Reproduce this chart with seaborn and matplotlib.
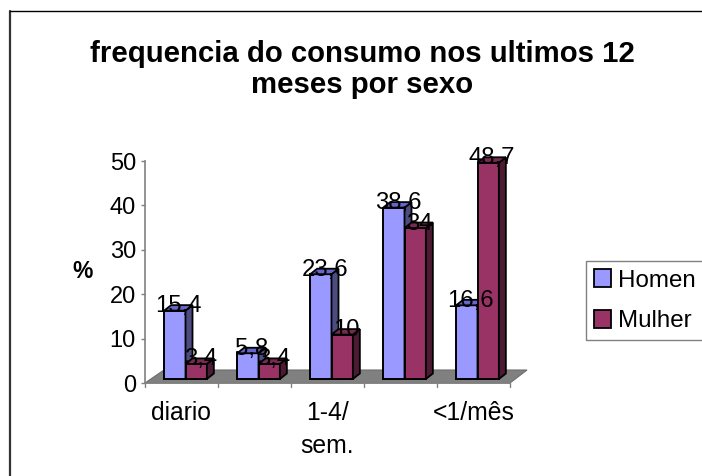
import matplotlib
matplotlib.use('Agg')
import pandas as pd
import seaborn as sns
from matplotlib import pyplot as plt
from matplotlib.patches import Polygon, Rectangle
from matplotlib.transforms import ScaledTranslation, blended_transform_factory
from matplotlib.lines import Line2D

categorias = ['diario', '5-6/sem.', '1-4/\nsem.', '1-3/mês', '<1/mês']
tick_labels = ['diario', '', '1-4/\nsem.', '', '<1/mês']
homem = [15.4, 5.8, 23.6, 38.6, 16.6]
mulher = [3.4, 3.4, 10, 34, 48.7]
rotulos_h = ['15,4', '5,8', '23,6', '38,6', '16,6']
rotulos_m = ['3,4', '3,4', '10', '34', '48,7']
azul = '#9999ff'
vinho = '#993366'
azul_esc = '#4c4c80'
vinho_esc = '#4d1a33'

df = pd.DataFrame({'cat': categorias * 2,
                   'valor': homem + mulher,
                   'sexo': ['Homen'] * 5 + ['Mulher'] * 5})

sns.set_theme(style='white')
plt.rcParams['font.family'] = ['Liberation Sans', 'DejaVu Sans']
plt.rcParams['text.color'] = 'black'
plt.rcParams['axes.labelcolor'] = 'black'

W, H = 702, 476
fig = plt.figure(figsize=(W / 100, H / 100), dpi=100)
ax = fig.add_axes([145 / W, 1 - 383 / H, 365 / W, 222 / H])

sns.barplot(data=df, x='cat', y='valor', hue='sexo', order=categorias,
            palette=[azul, vinho], width=0.585, gap=0, legend=False, ax=ax,
            edgecolor='black', linewidth=1.4, saturation=1)
ax.set_xlim(-0.5, 4.5)
ax.set_ylim(0, 50)
ax.set_yticks([0, 10, 20, 30, 40, 50])
ax.set_xticks(range(5))
ax.set_xticklabels(tick_labels, fontsize=17.8, color='black', linespacing=1.49)
ax.tick_params(axis='x', length=0, pad=13)
ax.tick_params(axis='y', left=True, length=3, width=1, color='#808080',
               labelsize=17, labelcolor='black', pad=3.5)
ax.set_xlabel('')
ax.set_ylabel('%', fontsize=16.5, fontweight='bold', rotation=0, va='center', ha='center')
ax.yaxis.set_label_coords(-0.17, 0.50)
for s in ['top', 'right']:
    ax.spines[s].set_visible(False)
for s in ['left', 'bottom']:
    ax.spines[s].set_color('#808080')
    ax.spines[s].set_linewidth(1.2)
    ax.spines[s].set_zorder(1.5)

# ticks entre as categorias, como no grafico original
bx = blended_transform_factory(ax.transData, ax.transAxes)
for i in range(6):
    ax.add_line(Line2D([i - 0.5, i - 0.5], [0, -0.016], transform=bx,
                       color='#808080', lw=1, clip_on=False))

# chao e profundidade, tudo em pixels a partir da posicao real das barras
dx, dy = 7, 5.5
base_up = 4
shift_x = 4
desloc = ScaledTranslation(shift_x / 100, base_up / 100, fig.dpi_scale_trans)

x0, y0 = ax.transData.transform((-0.5, 0))
x1, _ = ax.transData.transform((4.5, 0))
fig.add_artist(Polygon([(x0, y0), (x1, y0), (x1 + 17, y0 + 13), (x0 + 19, y0 + 13)],
                       closed=True, transform=None, facecolor='#808080',
                       edgecolor='#6e6e6e', lw=0.8, zorder=1))
ax.set_zorder(2)
ax.patch.set_alpha(0)

barras = [b for b in ax.patches if isinstance(b, Rectangle)]
barras = sorted(barras, key=lambda b: (round(b.get_x() + b.get_width() / 2 + 0.15), b.get_x()))
for n, b in enumerate(barras):
    e = n % 2
    i = n // 2
    b.set_transform(ax.transData + desloc)
    b.set_zorder(3 + n)
    b.set_clip_on(False)
    (xa, ya) = ax.transData.transform((b.get_x(), 0))
    (xb, yb) = ax.transData.transform((b.get_x() + b.get_width(), b.get_height()))
    xa += shift_x; xb += shift_x; ya += base_up; yb += base_up
    cor_lado = azul_esc if e == 0 else vinho_esc
    cor_topo = '#6666cc' if e == 0 else '#7a2952'
    for pts, c in [([(xb, ya), (xb + dx, ya + dy), (xb + dx, yb + dy), (xb, yb)], cor_lado),
                   ([(xa, yb), (xb, yb), (xb + dx, yb + dy), (xa + dx, yb + dy)], cor_topo)]:
        p = Polygon(pts, closed=True, transform=None, facecolor=c,
                    edgecolor='black', lw=1.3, zorder=3 + n, clip_on=False)
        ax.add_artist(p)
    txt = rotulos_h[i] if e == 0 else rotulos_m[i]
    fig.text((xa + xb) / 2 / W + 4 / W, (yb + 4.5) / H, txt, ha='center', va='center',
             fontsize=17.2, color='black', zorder=50)

# titulo
fig.text(362 / W, 1 - 69.5 / H, 'frequencia do consumo nos ultimos 12\nmeses por sexo',
         ha='center', va='center', fontsize=21.2, fontweight='bold', linespacing=1.14)

# legenda, sai um pouco pela direita como no original
h = [Rectangle((0, 0), 1, 1, facecolor=azul, edgecolor='black', lw=1.3),
     Rectangle((0, 0), 1, 1, facecolor=vinho, edgecolor='black', lw=1.3)]
leg = fig.legend(h, ['Homen', 'Mulher'], loc='upper left',
                 bbox_to_anchor=(586 / W, 1 - 261 / H), fontsize=17.4, frameon=True,
                 fancybox=False, edgecolor='#808080', framealpha=1, handlelength=0.7,
                 handleheight=0.8, handletextpad=0.3, labelspacing=0.75,
                 borderpad=0.33, borderaxespad=0)
leg.get_frame().set_linewidth(1)

# moldura: so topo e esquerda aparecem na imagem
fig.add_artist(Line2D([10 / W, 10 / W], [0, 1 - 10.5 / H], color='#333333', lw=1.6))
fig.add_artist(Line2D([10 / W, 1], [1 - 10.5 / H, 1 - 10.5 / H], color='black', lw=1))

fig.savefig('out.png', dpi=100)
